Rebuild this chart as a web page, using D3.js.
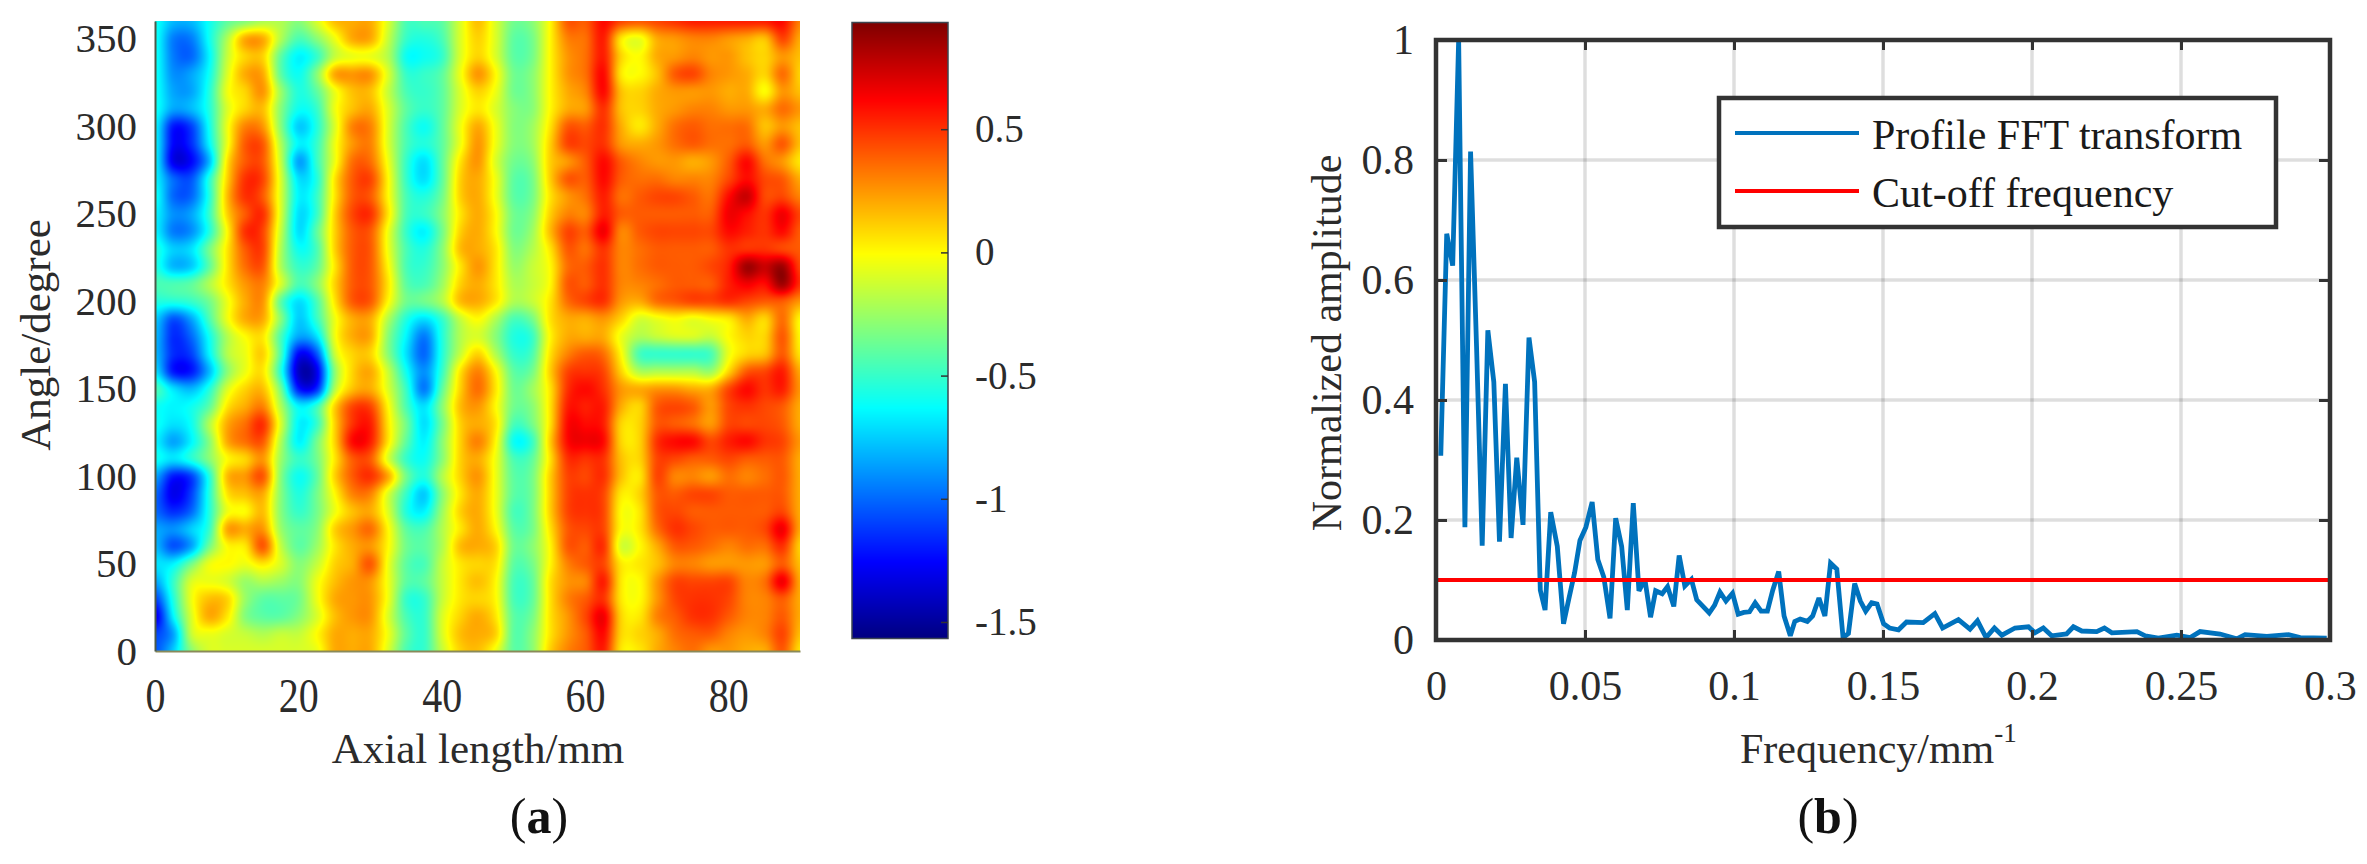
<!DOCTYPE html>
<html>
<head>
<meta charset="utf-8">
<script src="https://d3js.org/d3.v7.min.js"></script>
<style>
  html, body { margin: 0; background: #fff; }
  svg { display: block; }
</style>
</head>
<body>
<svg id="chart" width="2367" height="864"></svg>
<script>
// panel (a) - surface map, rows run from 360 degrees down to 0, columns 0 to 90 mm
var axialLengths = d3.range(0, 92.5, 2.5)
var angles = d3.range(360, -10, -10)
var surfaceRows = [
  [-.6,-.8,-.8,-.6,-.4,-.3,-.2,-.2,-.3,-.1,.15,.2,.2,-.1,-.45,-.45,-.4,-.1,.15,-.1,-.35,-.3,0,.4,.4,.6,.45,.4,.45,.5,.55,.55,.55,.55,.55,.6,.3],
  [-.6,-.95,-.95,-.6,-.2,.2,.2,-.2,-.45,-.3,-.05,.2,.2,-.15,-.5,-.55,-.45,-.1,.1,-.1,-.4,-.35,0,.3,.35,.55,.05,-.05,.2,.25,.3,.3,.25,.2,.15,.45,.2],
  [-.6,-.95,-1,-.65,-.15,.1,.1,-.4,-.65,-.5,-.15,-.05,-.05,-.2,-.6,-.6,-.5,-.1,.1,-.1,-.4,-.35,0,.25,.35,.55,.1,0,.2,.25,.3,.25,.25,.15,.1,.25,.15],
  [-.6,-.9,-.85,-.6,-.1,.2,.2,-.4,-.6,-.3,.2,.25,.25,-.1,-.5,-.5,-.4,-.05,.25,0,-.35,-.3,0,.25,.35,.6,.05,0,.15,.4,.45,.3,.25,.2,.1,.35,.1],
  [-.6,-.85,-.85,-.55,-.05,.1,.25,-.25,-.55,-.4,-.05,.15,.15,-.15,-.45,-.5,-.4,-.1,.1,-.05,-.35,-.3,0,.2,.3,.6,.15,.1,.2,.25,.25,.25,.2,.2,0,.25,.15],
  [-.6,-.85,-.8,-.55,-.1,.1,.15,-.3,-.6,-.5,-.05,.15,.2,-.1,-.4,-.5,-.4,-.1,.05,-.1,-.3,-.3,0,.2,.25,.5,.15,.1,.2,.25,.3,.3,.25,.25,.2,.35,.25],
  [-.65,-1.2,-1.1,-.6,-.05,.3,.25,-.3,-.75,-.55,-.1,.3,.3,-.1,-.45,-.6,-.4,-.05,.2,-.05,-.3,-.25,.05,.4,.4,.5,.2,.05,.2,.35,.4,.35,.35,.35,.15,.25,.15],
  [-.65,-1.25,-1.15,-.65,-.05,.4,.4,-.2,-.65,-.5,-.05,.25,.3,-.1,-.45,-.55,-.4,-.05,.25,-.05,-.3,-.25,.1,.45,.45,.5,.25,.2,.25,.35,.4,.35,.35,.4,.25,.4,.15],
  [-.65,-1.3,-1.25,-.8,.05,.4,.4,-.15,-.85,-.5,-.05,.35,.35,-.05,-.5,-.7,-.4,.05,.25,-.1,-.35,-.3,.1,.25,.4,.6,.4,.3,.25,.25,.2,.25,.4,.6,.35,.25,.05],
  [-.65,-1,-1.05,-.55,.1,.5,.45,-.1,-.7,-.55,.05,.4,.45,0,-.5,-.7,-.4,.1,.2,-.05,-.4,-.35,.1,.4,.4,.6,.4,.35,.35,.3,.3,.3,.45,.6,.45,.4,.2],
  [-.6,-1,-1,-.55,.15,.5,.4,-.1,-.65,-.5,.05,.4,.4,0,-.45,-.55,-.35,.1,.2,-.05,-.4,-.35,.05,.25,.35,.55,.35,.4,.45,.45,.4,.35,.6,.75,.45,.45,.3],
  [-.65,-.9,-.85,-.5,.1,.4,.5,-.1,-.7,-.5,.1,.45,.5,.05,-.45,-.5,-.3,.05,.2,0,-.35,-.3,.1,.3,.3,.55,.4,.4,.4,.4,.4,.4,.65,.6,.5,.65,.45],
  [-.65,-.95,-.9,-.55,0,.5,.45,-.15,-.7,-.4,.1,.4,.4,-.05,-.5,-.65,-.35,.1,.2,0,-.35,-.25,.15,.45,.4,.65,.3,.4,.45,.45,.45,.45,.6,.55,.5,.6,.4],
  [-.55,-.75,-.7,-.35,.05,.4,.45,-.2,-.6,-.45,.1,.4,.4,-.05,-.45,-.55,-.3,.15,.2,.05,-.3,-.2,.05,.4,.35,.5,.3,.35,.4,.4,.4,.4,.5,.5,.5,.45,.4],
  [-.55,-.8,-.75,-.4,.05,.35,.4,-.2,-.5,-.4,.05,.4,.4,0,-.45,-.5,-.3,.05,.25,.05,-.25,-.15,0,.35,.4,.5,.3,.35,.4,.4,.4,.45,.55,.85,.75,.85,.45],
  [-.45,-.45,-.4,-.2,.05,.25,.3,-.1,-.45,-.3,.1,.4,.4,.05,-.4,-.45,-.25,.1,.2,.05,-.2,-.15,0,.4,.4,.5,.3,.3,.35,.4,.4,.4,.55,.65,.6,.85,.5],
  [-.55,-.55,-.5,-.35,-.05,.2,.25,-.4,-.7,-.45,.05,.4,.4,0,-.35,-.35,-.2,.15,.2,.05,-.2,-.15,.05,.35,.45,.5,.25,.2,.35,.4,.45,.45,.5,.45,.4,.4,.25],
  [-.75,-1.05,-.85,-.45,-.05,.2,.2,-.3,-.75,-.5,-.05,.2,.2,-.2,-.55,-.7,-.5,-.15,0,-.2,-.45,-.35,.05,.2,.2,.25,.1,-.1,-.05,0,-.05,0,.05,.2,.1,.35,0],
  [-.8,-1.15,-1,-.6,-.2,0,.05,-.45,-.85,-.7,-.05,.2,.2,-.3,-.65,-.95,-.55,-.2,-.1,-.3,-.55,-.5,0,.2,.2,.2,-.05,-.2,-.15,-.1,-.1,-.15,0,.1,.1,.4,0],
  [-.8,-1.15,-1.1,-.65,-.2,-.05,.1,-.45,-1.25,-1.05,-.15,.1,.1,-.3,-.7,-1,-.55,-.15,.1,-.2,-.5,-.45,.05,.3,.4,.35,0,-.45,-.5,-.5,-.5,-.45,-.05,.1,.15,.4,.05],
  [-.7,-1.2,-1.2,-.8,-.3,-.05,.05,-.55,-1.4,-1.3,-.3,.1,.2,-.15,-.6,-.9,-.5,.05,.3,0,-.4,-.35,.1,.45,.5,.45,.1,-.2,-.2,-.2,-.2,-.25,.1,.4,.45,.55,.2],
  [-.45,-.7,-.8,-.55,-.1,.1,.15,-.35,-1.2,-1.15,-.2,.15,.2,-.1,-.5,-.95,-.4,.1,.35,.05,-.35,-.25,.05,.5,.6,.5,.25,.2,.25,.25,.2,.2,.45,.6,.5,.55,.25],
  [-.6,-.65,-.6,-.4,.05,.2,.3,-.2,-.65,-.5,.1,.45,.45,0,-.45,-.7,-.3,.15,.25,0,-.35,-.3,.05,.55,.55,.55,.2,.1,.4,.45,.4,.25,.45,.5,.45,.4,.2],
  [-.6,-.7,-.6,-.2,.2,.35,.5,-.1,-.65,-.5,.1,.5,.55,.05,-.35,-.7,-.35,.1,.2,.05,-.45,-.35,.05,.6,.6,.55,.1,.1,.4,.4,.35,.25,.45,.45,.45,.4,.2],
  [-.65,-.85,-.65,-.3,.2,.35,.4,-.2,-.65,-.35,.1,.6,.55,.05,-.4,-.65,-.3,.1,.3,0,-.6,-.5,.1,.6,.65,.6,.1,.1,.5,.6,.6,.45,.55,.6,.5,.45,.25],
  [-.6,-.7,-.55,-.3,0,.1,.25,-.25,-.5,-.35,.05,.4,.4,-.1,-.5,-.6,-.3,.1,.2,-.05,-.45,-.4,.05,.5,.5,.5,.15,.1,.45,.45,.4,.4,.45,.4,.4,.4,.2],
  [-.85,-1.2,-1.1,-.55,.15,.25,.4,-.3,-.6,-.4,.1,.4,.5,.2,-.35,-.55,-.2,.1,.25,-.05,-.4,-.35,.1,.45,.45,.5,.15,.05,.45,.3,.3,.25,.35,.3,.35,.4,.2],
  [-1,-1.3,-1.1,-.55,.05,.15,.2,-.3,-.55,-.35,0,.3,.3,-.1,-.5,-.75,-.3,.05,.2,-.05,-.4,-.35,.1,.45,.5,.45,.05,.1,.4,.4,.45,.45,.4,.4,.4,.4,.2],
  [-1,-1.15,-1,-.55,-.05,0,.15,-.3,-.5,-.35,-.05,.15,.2,-.1,-.55,-.65,-.25,.1,.2,-.05,-.45,-.35,.1,.45,.5,.45,0,.05,.4,.45,.4,.4,.4,.4,.4,.45,.2],
  [-.85,-.9,-.75,-.5,.2,.2,.25,-.25,-.4,-.3,.1,.25,.35,0,-.4,-.45,-.2,.05,.2,0,-.4,-.35,.05,.4,.45,.45,0,.05,.35,.5,.45,.4,.4,.4,.45,.65,.2],
  [-.8,-1.05,-.85,-.35,0,.05,.4,-.15,-.4,-.25,.05,.2,.25,0,-.35,-.4,-.2,.15,.2,.1,-.35,-.3,0,.4,.4,.5,-.1,0,.2,.4,.4,.35,.3,.35,.35,.5,.1],
  [-.7,-.65,-.35,-.05,0,-.05,.05,-.1,-.3,-.15,.1,.2,.4,-.05,-.4,-.45,-.15,.05,.1,.05,-.4,-.35,0,.3,.4,.45,.05,.05,.15,.3,.3,.25,.25,.25,.25,.4,.15],
  [-.85,-.5,-.1,-.05,-.1,-.25,-.2,-.25,-.3,-.05,.15,.25,.25,-.05,-.4,-.4,-.15,.05,.15,0,-.45,-.4,.05,.25,.3,.55,.05,0,.25,.45,.45,.45,.45,.3,.35,.65,.2],
  [-1.1,-.55,-.05,.15,.1,-.25,-.4,-.4,-.35,-.05,.2,.25,.25,-.05,-.5,-.5,-.15,.05,.1,0,-.45,-.4,.05,.3,.4,.5,.05,0,.25,.45,.5,.5,.45,.3,.3,.4,.2],
  [-1.3,-.65,-.1,.2,.05,-.3,-.4,-.4,-.3,-.1,.15,.25,.25,-.1,-.45,-.5,-.1,.1,.2,.05,-.4,-.35,.05,.25,.45,.65,.1,.05,.3,.4,.5,.5,.4,.3,.3,.4,.2],
  [-1.1,-.85,-.15,-.05,-.1,-.15,-.2,-.15,-.15,0,.2,.2,.2,-.05,-.4,-.5,-.1,.15,.2,.1,-.4,-.3,.05,.25,.4,.6,.1,.1,.2,.35,.4,.4,.3,.25,.3,.45,.15],
  [-1.05,-.75,-.3,-.1,-.1,-.1,-.1,-.1,-.1,-.05,.2,.2,.2,-.1,-.45,-.5,-.15,.1,.15,-.05,-.4,-.3,.1,.3,.4,.55,.05,.05,.2,.3,.35,.25,.25,.2,.2,.4,.05]
]
var axialTicks = [0, 20, 40, 60, 80]
var angleTicks = [0, 50, 100, 150, 200, 250, 300, 350]
var colorbarTicks = [-1.5, -1, -0.5, 0, 0.5]
var colorDomain = [-1.567, 0.933]

// panel (b) - spectrum
var frequency = [.0016,.0036,.0056,.0076,.0097,.0116,.0136,.0155,.0174,.0194,.0213,.0233,.0252,.0271,.0292,.0312,.0331,.035,.0366,.0385,.0407,.0428,.0446,.0465,.0483,.0503,.0524,.0543,.0563,.0584,.0603,.0623,.0642,.0662,.0681,.0701,.072,.0737,.0759,.0777,.0798,.0816,.0835,.0857,.0875,.0896,.0917,.0935,.0953,.0973,.0995,.1014,.1033,.1052,.1071,.1091,.1112,.113,.115,.1168,.1189,.1204,.1222,.1246,.1264,.1285,.1305,.1324,.1345,.1366,.1384,.1405,.1424,.1442,.1462,.148,.1502,.1522,.1552,.1579,.1635,.1674,.17,.1753,.1792,.1817,.1846,.1874,.1899,.1943,.1988,.201,.2038,.2066,.2116,.2139,.2167,.2217,.2243,.2268,.2352,.238,.2424,.2486,.2531,.2564,.2631,.2687,.2715,.2788,.2861,.29,.2989]
var amplitude = [.307,.677,.624,1,.188,.814,.49,.157,.516,.43,.164,.427,.17,.304,.192,.504,.43,.083,.05,.213,.156,.027,.069,.112,.166,.188,.23,.134,.105,.036,.203,.156,.05,.228,.082,.101,.038,.082,.077,.089,.056,.141,.09,.101,.067,.056,.045,.058,.08,.065,.078,.043,.046,.047,.062,.048,.048,.083,.114,.04,.007,.031,.035,.031,.04,.07,.04,.128,.118,.004,.011,.094,.065,.048,.062,.06,.027,.02,.017,.03,.029,.044,.02,.034,.018,.032,.004,.02,.008,.02,.022,.012,.02,.007,.01,.022,.015,.014,.02,.012,.014,.007,.003,.008,.004,.014,.01,.002,.009,.006,.009,.004,.003]
var cutoff = [.1, .1]
var frequencyTicks = [0, .05, .1, .15, .2, .25, .3]
var amplitudeTicks = [0, .2, .4, .6, .8, 1]

var serif = '"Liberation Serif", serif'
var textColor = '#2b2b2b'
var svg = d3.select('#chart').attr('font-family', serif)

// scales
var x = d3.scaleLinear().domain([0, 90]).range([155, 800])
var y = d3.scaleLinear().domain([0, 360]).range([651, 21])
var colorbarY = d3.scaleLinear().domain(colorDomain).range([638.5, 22.5])
var fx = d3.scaleLinear().domain([0, .3]).range([1436, 2330])
var fy = d3.scaleLinear().domain([0, 1]).range([640, 40])

// matlab jet
var jetStops = [0, .125, .375, .625, .875, 1]
var jet = d3.scaleLinear()
  .domain(jetStops.map(function(t) { return colorDomain[0] + t * (colorDomain[1] - colorDomain[0]) }))
  .range(['#00007f', '#0000ff', '#00ffff', '#ffff00', '#ff0000', '#7f0000'])
  .clamp(true)

function cubic(a, b, c, d, t) {
  return b + .5 * t * (c - a + t * (2 * a - 5 * b + 4 * c - d + t * (3 * (b - c) + d - a)))
}

function surfaceAt(mm, deg) {
  var cx = mm / 2.5, cy = (360 - deg) / 10
  var i = Math.min(Math.floor(cx), axialLengths.length - 2)
  var j = Math.min(Math.floor(cy), angles.length - 2)
  var rowVals = []
  for (var r = j - 1; r <= j + 2; r++) {
    var row = surfaceRows[Math.max(0, Math.min(angles.length - 1, r))]
    var pick = function(k) { return row[Math.max(0, Math.min(axialLengths.length - 1, k))] }
    rowVals.push(cubic(pick(i - 1), pick(i), pick(i + 1), pick(i + 2), cx - i))
  }
  return cubic(rowVals[0], rowVals[1], rowVals[2], rowVals[3], cy - j)
}

// heatmap drawn pixel by pixel, then placed in the svg
function rasterize(w, h, colorAt) {
  var canvas = document.createElement('canvas')
  canvas.width = w
  canvas.height = h
  var ctx = canvas.getContext('2d')
  var img = ctx.createImageData(w, h)
  for (var py = 0; py < h; py++) {
    for (var px = 0; px < w; px++) {
      var c = d3.rgb(colorAt(px, py))
      var o = (py * w + px) * 4
      img.data[o] = c.r
      img.data[o + 1] = c.g
      img.data[o + 2] = c.b
      img.data[o + 3] = 255
    }
  }
  ctx.putImageData(img, 0, 0)
  return canvas.toDataURL()
}

var heatW = x.range()[1] - x.range()[0]
var heatH = y.range()[0] - y.range()[1]
svg.append('image')
  .attr('x', x.range()[0]).attr('y', y.range()[1])
  .attr('width', heatW).attr('height', heatH)
  .attr('preserveAspectRatio', 'none')
  .attr('href', rasterize(heatW, heatH, function(px, py) {
    return jet(surfaceAt(x.invert(x.range()[0] + px), y.invert(y.range()[1] + py)))
  }))

// panel (a) axes
var xAxisA = svg.append('g')
  .attr('transform', 'translate(0,' + y(0) + ')')
  .call(d3.axisBottom(x).tickValues(axialTicks).tickSize(0).tickFormat(String))
  .attr('font-family', serif)
xAxisA.selectAll('text')
  .attr('y', null).attr('dy', null)
  .attr('transform', 'translate(0,61) scale(1,1.2)')
  .attr('font-size', 40).attr('fill', textColor)

var yAxisA = svg.append('g')
  .attr('transform', 'translate(' + x(0) + ',0)')
  .call(d3.axisLeft(y).tickValues(angleTicks).tickSize(0).tickPadding(18).tickFormat(String))
  .attr('font-family', serif)
yAxisA.selectAll('text').attr('font-size', 41).attr('fill', textColor)

xAxisA.select('.domain').attr('stroke', '#8a8a5a').attr('stroke-width', 2)
yAxisA.select('.domain').attr('stroke', '#4a5a4a').attr('stroke-width', 2)

svg.append('text').text('Axial length/mm')
  .attr('x', 478).attr('y', 763).attr('text-anchor', 'middle')
  .attr('font-size', 43).attr('fill', textColor)

svg.append('text').text('Angle/degree')
  .attr('transform', 'translate(50,335) rotate(-90)')
  .attr('text-anchor', 'middle')
  .attr('font-size', 43).attr('fill', textColor)

// colorbar
var barX = 852, barW = 96
var barH = Math.round(colorbarY.range()[0] - colorbarY.range()[1])
svg.append('image')
  .attr('x', barX).attr('y', colorbarY.range()[1])
  .attr('width', barW).attr('height', barH)
  .attr('preserveAspectRatio', 'none')
  .attr('href', rasterize(1, barH, function(px, py) {
    return jet(colorbarY.invert(colorbarY.range()[1] + py))
  }))
svg.append('rect')
  .attr('x', barX).attr('y', colorbarY.range()[1])
  .attr('width', barW).attr('height', barH)
  .attr('fill', 'none').attr('stroke', '#3c4650').attr('stroke-width', 1.5)

var barAxis = svg.append('g')
  .attr('transform', 'translate(' + (barX + barW) + ',0)')
  .call(d3.axisRight(colorbarY).tickValues(colorbarTicks).tickSize(-7).tickPadding(27).tickFormat(String))
  .attr('font-family', serif)
barAxis.select('.domain').remove()
barAxis.selectAll('line').attr('stroke', '#333').attr('stroke-width', 1.5)
barAxis.selectAll('text').attr('font-size', 39).attr('fill', textColor)

svg.append('text')
  .attr('x', 539).attr('y', 833).attr('text-anchor', 'middle')
  .attr('font-size', 50).attr('fill', '#111')
  .html('(<tspan font-weight="bold">a</tspan>)')

// panel (b) grid
var grid = svg.append('g').attr('stroke', '#000').attr('stroke-opacity', .13).attr('stroke-width', 3.5)
grid.selectAll('.gx').data(frequencyTicks.slice(1, -1)).enter().append('line')
  .attr('x1', fx).attr('x2', fx).attr('y1', fy(0)).attr('y2', fy(1))
grid.selectAll('.gy').data(amplitudeTicks.slice(1, -1)).enter().append('line')
  .attr('x1', fx(0)).attr('x2', fx(.3))
  .attr('y1', fy).attr('y2', fy)

// panel (b) curves
var line = d3.line()
  .x(function(d) { return fx(d[0]) })
  .y(function(d) { return fy(d[1]) })

svg.append('path')
  .attr('d', line(d3.zip(frequency, amplitude)))
  .attr('fill', 'none').attr('stroke', '#0072bd').attr('stroke-width', 4.8)
  .attr('stroke-linejoin', 'miter').attr('stroke-miterlimit', 3)

svg.append('path')
  .attr('d', line(d3.zip(fx.domain(), cutoff)))
  .attr('fill', 'none').attr('stroke', '#ff0000').attr('stroke-width', 4)

// panel (b) box, ticks on all four sides
var axisColor = '#333'
function styleAxis(g, size) {
  g.attr('font-family', serif)
  g.select('.domain').remove()
  g.selectAll('line').attr('stroke', axisColor).attr('stroke-width', 3)
  g.selectAll('text').attr('font-size', size).attr('fill', textColor)
}

var xAxisB = svg.append('g')
  .attr('transform', 'translate(0,' + fy(0) + ')')
  .call(d3.axisBottom(fx).tickValues(frequencyTicks).tickSize(-10).tickFormat(String))
styleAxis(xAxisB, 42)
xAxisB.selectAll('text').attr('y', 60).attr('dy', null)

var xAxisTop = svg.append('g')
  .attr('transform', 'translate(0,' + fy(1) + ')')
  .call(d3.axisTop(fx).tickValues(frequencyTicks).tickSize(-10).tickFormat(''))
styleAxis(xAxisTop, 42)

var yAxisB = svg.append('g')
  .attr('transform', 'translate(' + fx(0) + ',0)')
  .call(d3.axisLeft(fy).tickValues(amplitudeTicks).tickSize(-11).tickPadding(22).tickFormat(String))
styleAxis(yAxisB, 42)

var yAxisRight = svg.append('g')
  .attr('transform', 'translate(' + fx(.3) + ',0)')
  .call(d3.axisRight(fy).tickValues(amplitudeTicks).tickSize(-11).tickFormat(''))
styleAxis(yAxisRight, 42)

svg.append('rect')
  .attr('x', fx(0)).attr('y', fy(1))
  .attr('width', fx(.3) - fx(0)).attr('height', fy(0) - fy(1))
  .attr('fill', 'none').attr('stroke', axisColor).attr('stroke-width', 4.5)

var xLabel = svg.append('text')
  .attr('x', 1740).attr('y', 763)
  .attr('font-size', 42).attr('fill', textColor)
xLabel.append('tspan').text('Frequency/mm')
xLabel.append('tspan').text('-1').attr('font-size', 27).attr('dy', -21)

svg.append('text').text('Normalized amplitude')
  .attr('transform', 'translate(1341,343) rotate(-90)')
  .attr('text-anchor', 'middle')
  .attr('font-size', 42).attr('fill', textColor)

svg.append('text')
  .attr('x', 1828).attr('y', 833).attr('text-anchor', 'middle')
  .attr('font-size', 50).attr('fill', '#111')
  .html('(<tspan font-weight="bold">b</tspan>)')

// legend
var legendNames = ['Profile FFT transform', 'Cut-off frequency']
var legendColors = ['#0072bd', '#ff0000']
var legend = svg.append('g')
legend.append('rect')
  .attr('x', 1719).attr('y', 98).attr('width', 557).attr('height', 129)
  .attr('fill', '#fff').attr('stroke', axisColor).attr('stroke-width', 4.5)
var legendItem = legend.selectAll('g').data(legendNames).enter().append('g')
  .attr('transform', function(d, i) { return 'translate(0,' + (133 + i * 58) + ')' })
legendItem.append('line')
  .attr('x1', 1735).attr('x2', 1859)
  .attr('stroke', function(d, i) { return legendColors[i] }).attr('stroke-width', 4.2)
legendItem.append('text').text(function(d) { return d })
  .attr('x', 1872).attr('y', 16)
  .attr('font-size', 42).attr('fill', '#1a1a1a')
</script>
</body>
</html>
